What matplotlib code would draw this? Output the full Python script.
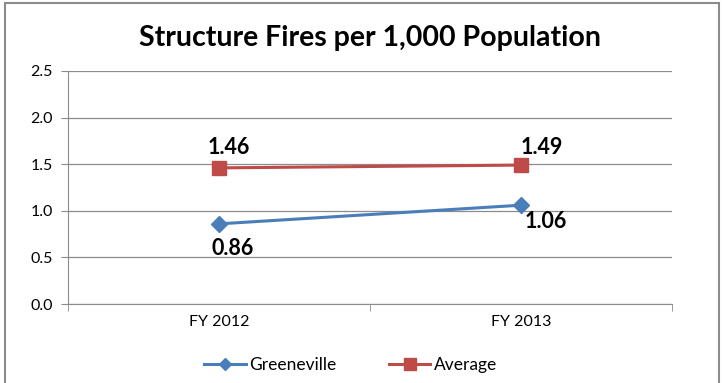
import matplotlib
matplotlib.use("Agg")
import matplotlib.pyplot as plt
from matplotlib.patches import Rectangle

plt.rcParams['font.family'] = ['Lato', 'DejaVu Sans']

years = ['FY 2012', 'FY 2013']
greeneville = [0.86, 1.06]
average = [1.46, 1.49]

fig = plt.figure(figsize=(7.23, 3.83), dpi=100)
ax = fig.add_axes([0.094, 0.206, 0.835, 0.609])

# outer chart border
fig.patches.append(Rectangle((5/723, -0.05), 714/723, 1.05 - 3/383,
                             transform=fig.transFigure, fill=False,
                             edgecolor='#8c8c8c', linewidth=1.5))

x = list(range(len(years)))
ax.plot(x, greeneville, color='#4a7ebb', linewidth=2.2, marker='D',
        markersize=8, label='Greeneville', zorder=3)
ax.plot(x, average, color='#be4b48', linewidth=2.2, marker='s',
        markersize=10, label='Average', zorder=3)

lbl = dict(textcoords='offset points', ha='center', va='center',
           fontsize=15.5, fontweight='bold')
ax.annotate('0.86', (x[0], greeneville[0]), xytext=(10, -18), **lbl)
ax.annotate('1.06', (x[1], greeneville[1]), xytext=(18, -12), **lbl)
ax.annotate('1.46', (x[0], average[0]), xytext=(7, 15), **lbl)
ax.annotate('1.49', (x[1], average[1]), xytext=(15, 13), **lbl)

ax.set_xlim(-0.5, 1.5)
ax.set_ylim(0, 2.5)
ax.set_yticks([0, 0.5, 1.0, 1.5, 2.0, 2.5])
ax.set_yticklabels(['%.1f' % v for v in [0, 0.5, 1.0, 1.5, 2.0, 2.5]])
ax.set_xticks(x)
ax.set_xticklabels(years)
ax.set_xticks([-0.5, 0.5, 1.5], minor=True)
ax.tick_params(axis='x', which='major', length=0, labelsize=11.5, pad=8)
ax.tick_params(axis='x', which='minor', length=5, color='#8c8c8c')
ax.tick_params(axis='y', length=5, color='#8c8c8c', labelsize=11.5, pad=6)
ax.grid(axis='y', color='#8c8c8c', linewidth=0.9)
ax.set_axisbelow(True)
for s in ['top', 'right']:
    ax.spines[s].set_visible(False)
for s in ['left', 'bottom']:
    ax.spines[s].set_color('#8c8c8c')

fig.text(0.512, 0.9, 'Structure Fires per 1,000 Population', ha='center', va='center',
         fontsize=20.5, fontweight='bold')

fig.legend(loc='center', bbox_to_anchor=(0.485, 0.047), ncol=2, frameon=False,
           fontsize=12.5, handlelength=2.4, columnspacing=3, handletextpad=0.2,
           markerscale=0.8)

fig.savefig('out.png', dpi=100)
